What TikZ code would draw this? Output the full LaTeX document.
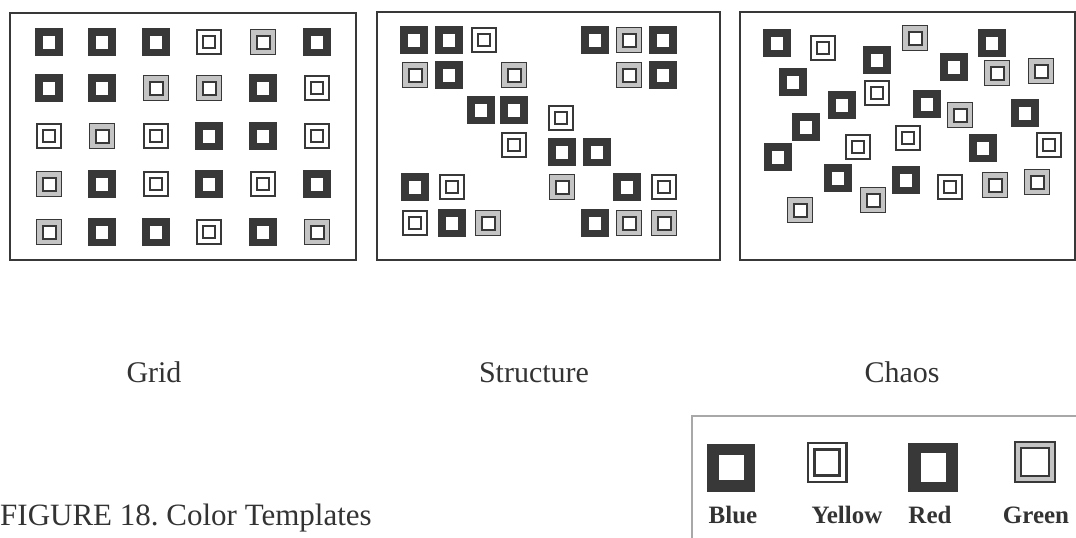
\documentclass[tikz,border=0pt]{standalone}
\usepackage{fontspec}
\setmainfont{Liberation Serif}
\frenchspacing
\definecolor{ink}{HTML}{383838}
\definecolor{txt}{HTML}{333333}
\definecolor{grn}{HTML}{C4C4C4}
\definecolor{frame}{HTML}{A8A8A8}
\tikzset{
  bl/.style={fill=ink, minimum size=28pt, inner sep=0pt,
    path picture={\fill[white] ([shift={(-6pt,-6.5pt)}]path picture bounding box.center) rectangle ++(12pt,13pt);}},
  ye/.style={draw=ink, line width=2pt, fill=white, minimum size=24pt, inner sep=0pt,
    path picture={\draw[ink,line width=2pt] ([shift={(-6pt,-6pt)}]path picture bounding box.center) rectangle ++(12pt,12pt);}},
  gr/.style={draw=ink, line width=1.8pt, fill=grn, minimum size=25pt, inner sep=0pt,
    path picture={\draw[ink,line width=2pt,fill=white] ([shift={(-6.5pt,-6.5pt)}]path picture bounding box.center) rectangle ++(13pt,13pt);}},
  blL/.style={fill=ink, minimum size=48pt, inner sep=0pt,
    path picture={\fill[white] ([shift={(-12.5pt,-12.5pt)}]path picture bounding box.center) rectangle ++(25pt,25pt);}},
  rdL/.style={fill=ink, minimum width=50pt, minimum height=49pt, inner sep=0pt,
    path picture={\fill[white] ([shift={(-12.5pt,-14.5pt)}]path picture bounding box.center) rectangle ++(25pt,29pt);}},
  yeL/.style={draw=ink, line width=2.2pt, fill=white, minimum size=38.8pt, inner sep=0pt,
    path picture={\draw[ink,line width=2.2pt] ([shift={(-12.5pt,-13pt)}]path picture bounding box.center) rectangle ++(25pt,26pt);}},
  grL/.style={draw=ink, line width=2pt, fill=grn, minimum size=40pt, inner sep=0pt,
    path picture={\draw[ink,line width=2.2pt,fill=white] ([shift={(-14pt,-14pt)}]path picture bounding box.center) rectangle ++(28pt,28pt);}},
  panel/.style={draw=ink, line width=2.2pt, inner sep=0pt},
  lab/.style={text=txt, inner sep=0pt, anchor=base, font=\fontsize{30}{36}\selectfont},
  leg/.style={text=txt, inner sep=0pt, anchor=base, font=\fontsize{25}{30}\selectfont\bfseries},
}
\begin{document}
\begin{tikzpicture}[x=1pt,y=-1pt]
\clip (0,0) rectangle (1076,538);
\fill[white] (0,0) rectangle (1076,538);
% panels
\node[panel, minimum width=346pt, minimum height=247pt] (p1) at (183,136.5) {};
\node[panel, minimum width=343pt, minimum height=248pt] (p2) at (548.5,136) {};
\node[panel, minimum width=335pt, minimum height=248pt] (p3) at (907.5,136) {};
% grid
\node[bl] (g11) at (49,42) {};  \node[bl] (g12) at (102,42) {}; \node[bl] (g13) at (156,42) {};
\node[ye] (g14) at (209,42) {}; \node[gr] (g15) at (263,42) {}; \node[bl] (g16) at (317,42) {};
\node[bl] (g21) at (49,88) {};  \node[bl] (g22) at (102,88) {}; \node[gr] (g23) at (156,88) {};
\node[gr] (g24) at (209,88) {}; \node[bl] (g25) at (263,88) {}; \node[ye] (g26) at (317,88) {};
\node[ye] (g31) at (49,136) {}; \node[gr] (g32) at (102,136) {}; \node[ye] (g33) at (156,136) {};
\node[bl] (g34) at (209,136) {}; \node[bl] (g35) at (263,136) {}; \node[ye] (g36) at (317,136) {};
\node[gr] (g41) at (49,184) {}; \node[bl] (g42) at (102,184) {}; \node[ye] (g43) at (156,184) {};
\node[bl] (g44) at (209,184) {}; \node[ye] (g45) at (263,184) {}; \node[bl] (g46) at (317,184) {};
\node[gr] (g51) at (49,232) {}; \node[bl] (g52) at (102,232) {}; \node[bl] (g53) at (156,232) {};
\node[ye] (g54) at (209,232) {}; \node[bl] (g55) at (263,232) {}; \node[gr] (g56) at (317,232) {};
% structure
\node[bl] (s1) at (414,40) {}; \node[bl] (s2) at (449,40) {}; \node[ye] (s3) at (484,40) {};
\node[bl] (s4) at (595,40) {}; \node[gr] (s5) at (629,40) {}; \node[bl] (s6) at (663,40) {};
\node[gr] (s7) at (415,75) {}; \node[bl] (s8) at (449,75) {}; \node[gr] (s9) at (514,75) {};
\node[gr] (s10) at (629,75) {}; \node[bl] (s11) at (663,75) {};
\node[bl] (s12) at (481,110) {}; \node[bl] (s13) at (514,110) {}; \node[ye] (s14) at (561,118) {};
\node[ye] (s15) at (514,145) {}; \node[bl] (s16) at (562,152) {}; \node[bl] (s17) at (597,152) {};
\node[bl] (s18) at (415,187) {}; \node[ye] (s19) at (452,187) {}; \node[gr] (s20) at (562,187) {};
\node[bl] (s21) at (627,187) {}; \node[ye] (s22) at (664,187) {};
\node[ye] (s23) at (415,223) {}; \node[bl] (s24) at (452,223) {}; \node[gr] (s25) at (488,223) {};
\node[bl] (s26) at (595,223) {}; \node[gr] (s27) at (629,223) {}; \node[gr] (s28) at (664,223) {};
% chaos
\node[bl] (c1) at (777,43) {};  \node[ye] (c2) at (823,48) {};  \node[gr] (c3) at (915,38) {};
\node[bl] (c4) at (992,43) {};  \node[bl] (c5) at (877,60) {};  \node[bl] (c6) at (954,67) {};
\node[gr] (c7) at (997,73) {};  \node[gr] (c8) at (1041,71) {}; \node[bl] (c9) at (793,82) {};
\node[ye] (c10) at (877,93) {}; \node[bl] (c11) at (842,105) {}; \node[bl] (c12) at (927,104) {};
\node[gr] (c13) at (960,115) {}; \node[bl] (c14) at (1025,113) {}; \node[bl] (c15) at (806,127) {};
\node[ye] (c16) at (908,138) {}; \node[ye] (c17) at (858,147) {}; \node[bl] (c18) at (983,148) {};
\node[ye] (c19) at (1049,145) {}; \node[bl] (c20) at (778,157) {}; \node[bl] (c21) at (838,178) {};
\node[bl] (c22) at (906,180) {}; \node[ye] (c23) at (950,187) {}; \node[gr] (c24) at (995,185) {};
\node[gr] (c25) at (1037,182) {}; \node[gr] (c26) at (873,200) {}; \node[gr] (c27) at (800,210) {};
% panel titles
\node[lab] (tg) at (154,382) {Grid};
\node[lab] (ts) at (534,382) {Structure};
\node[lab] (tc) at (902,382) {Chaos};
% caption
\node[text=txt, inner sep=0pt, anchor=base west, font=\fontsize{31}{37}\selectfont] (cap) at (0,525) {FIGURE 18. Color Templates};
% legend
\node[draw=frame, line width=1.5pt, minimum width=400pt, minimum height=150pt, anchor=north west] (legbox) at (691,415) {};
\node[blL] (lb) at (731,467.5) {};
\node[yeL] (ly) at (827,462.5) {};
\node[rdL] (lr) at (933,467.5) {};
\node[grL] (lg) at (1035,462) {};
\node[leg] (tb) at (733,523) {Blue};
\node[leg] (ty) at (847,523) {Yellow};
\node[leg] (tr) at (930,523) {Red};
\node[leg] (tgr) at (1036,523) {Green};
\end{tikzpicture}
\end{document}
